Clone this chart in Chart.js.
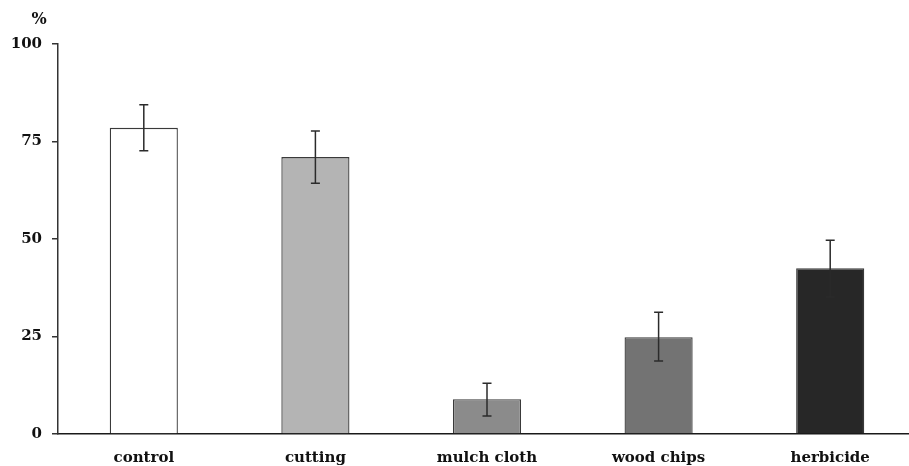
<!DOCTYPE html>
<html>
<head>
<meta charset="utf-8">
<script src="https://cdn.jsdelivr.net/npm/chart.js@4/dist/chart.umd.min.js"></script>
<style>
  html, body { margin: 0; padding: 0; background: #fff; overflow: hidden; }
  #wrap { position: relative; width: 916px; height: 466px; }
</style>
</head>
<body>
<div id="wrap"><canvas id="c"></canvas></div>
<script>
// Treatments and their mean values (%) with the ends of the error bars
const categories = ['control', 'cutting', 'mulch cloth', 'wood chips', 'herbicide'];
const means      = [78.5, 71.0, 8.9, 24.8, 42.5];
const errUpper   = [84.4, 77.7, 13.0, 31.2, 49.7];
const errLower   = [72.6, 64.3, 4.6, 18.7, 35.1];
const yTicks     = [0, 25, 50, 75, 100];
const barColors  = ['#ffffff', '#b4b4b4', '#8b8b8b', '#737373', '#272727'];

const labelFont = { family: 'DejaVu Serif', size: 15, weight: 'bold' };

// Vertical error bars with short caps, placed through the y scale
const errorBars = {
  id: 'errorBars',
  afterDatasetsDraw(chart) {
    const { ctx, scales: { y } } = chart;
    const meta = chart.getDatasetMeta(0);
    ctx.save();
    ctx.strokeStyle = '#2b2b2b';
    ctx.lineWidth = 1.5;
    meta.data.forEach((bar, i) => {
      const x = bar.x;
      const yt = y.getPixelForValue(errUpper[i]);
      const yb = y.getPixelForValue(errLower[i]);
      ctx.beginPath();
      ctx.moveTo(x, yt); ctx.lineTo(x, yb);
      ctx.moveTo(x - 4.5, yt); ctx.lineTo(x + 4.5, yt);
      ctx.moveTo(x - 4.5, yb); ctx.lineTo(x + 4.5, yb);
      ctx.stroke();
    });
    ctx.restore();
  }
};

// Unit label above the value axis
const unitLabel = {
  id: 'unitLabel',
  afterDraw(chart) {
    const { ctx } = chart;
    ctx.save();
    ctx.fillStyle = '#111';
    ctx.font = 'bold 16px "DejaVu Serif"';
    ctx.textAlign = 'center';
    ctx.textBaseline = 'middle';
    ctx.fillText('%', 39, 20);
    ctx.restore();
  }
};

new Chart(document.getElementById('c'), {
  type: 'bar',
  data: {
    labels: categories,
    datasets: [{
      data: means,
      backgroundColor: barColors,
      borderColor: '#3a3a3a',
      borderWidth: 1.3,
      categoryPercentage: 1,
      barPercentage: 0.397
    }]
  },
  options: {
    responsive: true,
    maintainAspectRatio: false,
    animation: false,
    layout: { padding: { top: 44, left: 0, right: 0, bottom: 0 } },
    plugins: { legend: { display: false }, tooltip: { enabled: false } },
    scales: {
      x: {
        grid: { display: false, drawTicks: false },
        border: { display: true, color: '#1a1a1a', width: 1.5 },
        ticks: { color: '#111', font: labelFont, padding: 15, maxRotation: 0 },
        afterFit(s) { s.height = 32; }
      },
      y: {
        min: 0, max: 100,
        afterBuildTicks(s) { s.ticks = yTicks.map(v => ({ value: v })); },
        grid: { display: true, drawOnChartArea: false, drawTicks: true, tickLength: 6, color: '#333', lineWidth: 1.5 },
        border: { display: true, color: '#333', width: 1.5 },
        ticks: { color: '#111', font: labelFont, padding: 10 },
        afterFit(s) { s.width = 58; }
      }
    }
  },
  plugins: [errorBars, unitLabel]
});
</script>
</body>
</html>
